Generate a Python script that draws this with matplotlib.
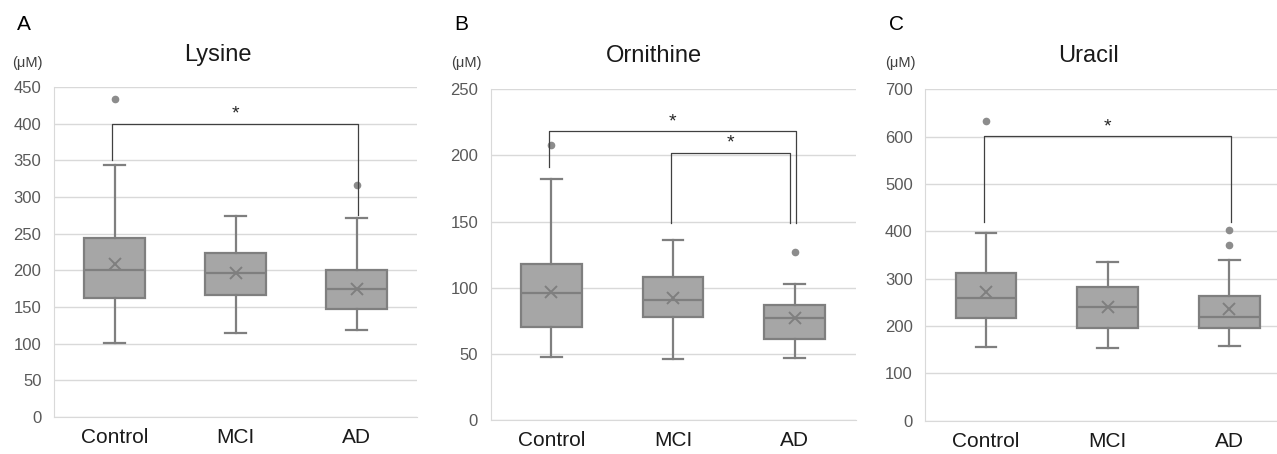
import matplotlib
matplotlib.use("Agg")
import matplotlib.pyplot as plt

plt.rcParams['font.family'] = ['Liberation Sans', 'DejaVu Sans']

groups = ["Control", "MCI", "AD"]

# Lysine
lys_low = [101, 114, 119]
lys_q1 = [162, 167, 147]
lys_med = [200, 196, 175]
lys_q3 = [244, 223, 200]
lys_high = [344, 274, 271]
lys_mean = [208, 197, 175]
lys_out = [[433], [], [316]]

# Ornithine
orn_low = [48, 46, 46.5]
orn_q1 = [70, 78, 61]
orn_med = [96, 91, 77]
orn_q3 = [118, 108, 87]
orn_high = [182, 136, 103]
orn_mean = [96.5, 92, 77]
orn_out = [[208], [], [127]]

# Uracil
ura_low = [155, 153, 157]
ura_q1 = [216, 195, 195]
ura_med = [259, 240, 220]
ura_q3 = [311, 282, 263]
ura_high = [396, 335, 339]
ura_mean = [271, 240, 235]
ura_out = [[633], [], [402, 371]]

# significance brackets: (group i, group j, bar level, left leg bottom, right leg bottom)
lys_sig = [(0, 2, 400, 351, 275)]
orn_sig = [(0, 2, 218.5, 191.5, 149), (1, 2, 202, 149, 149)]
ura_sig = [(0, 2, 601, 420, 420)]

panels = [
    ("A", "Lysine", lys_low, lys_q1, lys_med, lys_q3, lys_high, lys_mean, lys_out, lys_sig, 450, 50,
     [54, 417, 87, 417], (24, 25), (218, 55), (27, 63)),
    ("B", "Ornithine", orn_low, orn_q1, orn_med, orn_q3, orn_high, orn_mean, orn_out, orn_sig, 250, 50,
     [490.5, 855.5, 89.3, 420], (461, 25), (654, 56), (466, 63)),
    ("C", "Uracil", ura_low, ura_q1, ura_med, ura_q3, ura_high, ura_mean, ura_out, ura_sig, 700, 100,
     [925.3, 1290, 89.3, 420.7], (897, 25), (1089, 56), (900, 63)),
]

W, H = 1277, 454
fig = plt.figure(figsize=(W / 100, H / 100), dpi=100)

box_edge = "#7f7f7f"
box_fill = "#a6a6a6"

for letter, title, low, q1, med, q3, high, mean, out, sig, ymax, step, box, lpos, tpos, upos in panels:
    x0, x1, ytop, ybot = box
    ax = fig.add_axes([x0 / W, 1 - ybot / H, (x1 - x0) / W, (ybot - ytop) / H])

    stats = []
    for i in range(3):
        stats.append({"whislo": low[i], "q1": q1[i], "med": med[i], "q3": q3[i],
                      "whishi": high[i], "mean": mean[i], "fliers": out[i]})
    ax.bxp(stats, positions=[1, 2, 3], widths=0.5, capwidths=0.17, patch_artist=True, showmeans=True,
           boxprops=dict(facecolor=box_fill, edgecolor=box_edge, linewidth=1.6),
           medianprops=dict(color=box_edge, linewidth=1.6),
           whiskerprops=dict(color=box_edge, linewidth=1.6),
           capprops=dict(color=box_edge, linewidth=1.6),
           meanprops=dict(marker="x", markersize=9, markeredgecolor=box_edge, markeredgewidth=1.4),
           flierprops=dict(marker="o", markersize=4.5, markerfacecolor="#8c8c8c", markeredgecolor="#8c8c8c"))

    for gi, gj, level, lb, rb in sig:
        xl = gi + 1 - 0.02
        xr = gj + 1 + 0.015 if gi == 0 else gj + 1 - 0.04
        ax.plot([xl, xl, xr, xr], [lb, level, level, rb], color="#404040", linewidth=0.9, zorder=4)
        ax.text((xl + xr) / 2, level + ymax * 0.003, "*", ha="center", va="bottom",
                fontsize=14, color="#262626")

    ax.set_xlim(0.5, 3.5)
    ax.set_ylim(0, ymax)
    ax.set_yticks(range(0, ymax + 1, step))
    ax.set_xticks([1, 2, 3])
    ax.set_xticklabels(groups)
    ax.grid(axis="y", color="#d9d9d9", linewidth=1)
    ax.set_axisbelow(True)
    ax.set_facecolor("white")
    for s in ["top", "right"]:
        ax.spines[s].set_visible(False)
    ax.spines["left"].set_color("#d9d9d9")
    ax.spines["bottom"].set_color("#d9d9d9")
    ax.tick_params(axis="both", length=0)
    ax.tick_params(axis="y", labelsize=12, labelcolor="#595959", pad=9)
    ax.tick_params(axis="x", labelsize=15, labelcolor="#1a1a1a", pad=8)

    fig.text(lpos[0] / W, 1 - lpos[1] / H, letter, ha="center", va="center", fontsize=15, color="black")
    fig.text(tpos[0] / W, 1 - tpos[1] / H, title, ha="center", va="center", fontsize=17, color="#1a1a1a")
    fig.text(upos[0] / W, 1 - upos[1] / H, "(μM)", ha="center", va="center", fontsize=10.5, color="#404040")

fig.savefig("out.png", dpi=100)
